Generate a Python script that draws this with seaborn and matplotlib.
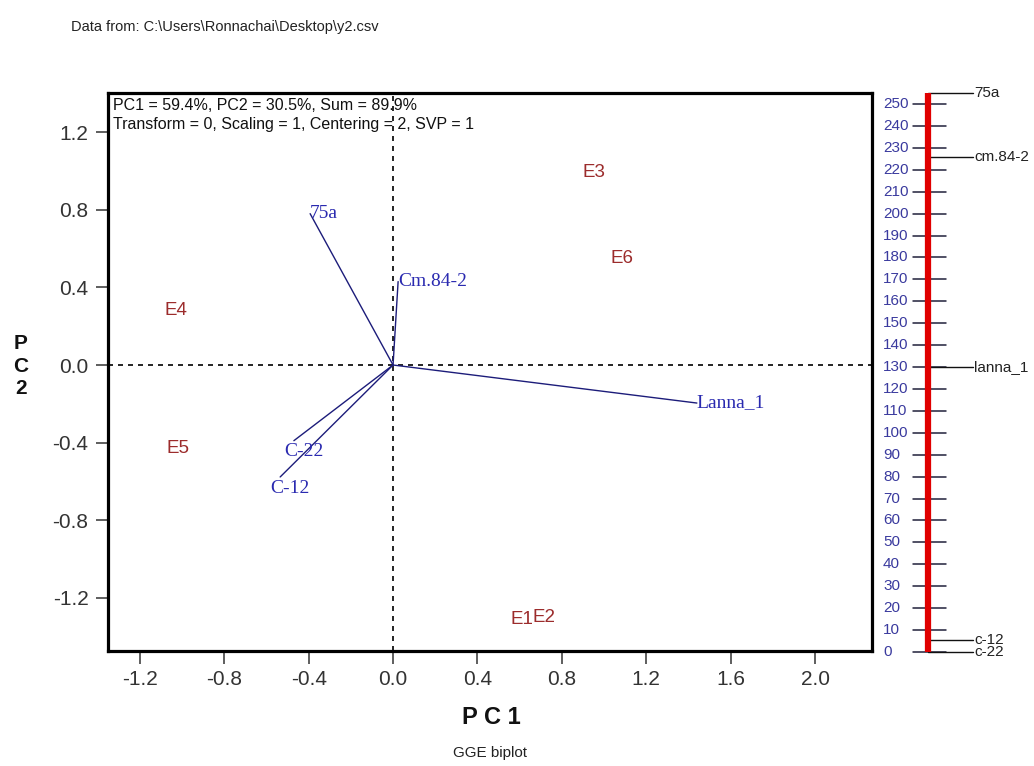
import numpy as np
import pandas as pd
import matplotlib
matplotlib.use("Agg")
import matplotlib.pyplot as plt
import seaborn as sns

# ---------------- data ----------------
genotypes = ["75a", "Cm.84-2", "Lanna_1", "C-22", "C-12"]
geno_pc1 = [-0.393, 0.024, 1.44, -0.47, -0.535]
geno_pc2 = [0.78, 0.43, -0.196, -0.39, -0.577]

environments = ["E1", "E2", "E3", "E4", "E5", "E6"]
env_pc1 = [0.61, 0.715, 0.953, -1.03, -1.02, 1.085]
env_pc2 = [-1.31, -1.30, 0.99, 0.28, -0.43, 0.55]

x_ticks = [-1.2, -0.8, -0.4, 0.0, 0.4, 0.8, 1.2, 1.6, 2.0]
y_ticks = [1.2, 0.8, 0.4, 0.0, -0.4, -0.8, -1.2]

scale_names = ["75a", "cm.84-2", "lanna_1", "c-12", "c-22"]
scale_values = [255, 226, 130, 5.5, 0]
scale_ticks = list(range(0, 251, 10))

header_lines = ["PC1 = 59.4%, PC2 = 30.5%, Sum = 89.9%",
                "Transform = 0, Scaling = 1, Centering = 2, SVP = 1"]
source_text = "Data from: C:\\Users\\Ronnachai\\Desktop\\y2.csv"

# ---------------- style ----------------
sns.set_theme(style="white")
plt.rcParams["font.family"] = ["Liberation Sans", "DejaVu Sans"]

W, H = 1034, 766
fig = plt.figure(figsize=(W / 100, H / 100), dpi=100)
fig.patch.set_facecolor("white")

def fx(px):
    return px / W

def fy(py):
    return 1 - py / H

# main axes box: px x 108..872, y 93..651
ax = fig.add_axes([fx(108), fy(651), (872 - 108) / W, (651 - 93) / H])
ax.set_xlim(-1.351, 2.270)
ax.set_ylim(-1.474, 1.402)

navy = "#1c1c7a"
vec_df = pd.DataFrame({
    "g": np.repeat(genotypes, 2),
    "pc1": np.ravel([[0.0, v] for v in geno_pc1]),
    "pc2": np.ravel([[0.0, v] for v in geno_pc2]),
})
ax.axhline(0, color="black", lw=1.2, ls=(0, (3, 3)), zorder=1)
ax.axvline(0, color="black", lw=1.2, ls=(0, (3, 3)), zorder=1)
sns.lineplot(data=vec_df, x="pc1", y="pc2", units="g", estimator=None,
             sort=False, color=navy, lw=1.0, ax=ax, legend=False, zorder=2)

for name, x, y in zip(genotypes, geno_pc1, geno_pc2):
    off = (-7, -8) if (x < 0 and y < 0) else (0, 0)
    ax.annotate(name, (x, y), xytext=off, textcoords="offset points",
                ha="left", va="center", color="#2a2ab0", fontsize=14,
                family=["Liberation Serif", "DejaVu Serif"], zorder=3)

for name, x, y in zip(environments, env_pc1, env_pc2):
    ax.text(x, y, name, ha="center", va="center", color="#9c2c2c",
            fontsize=13.5, zorder=3)

ax.set_xticks(x_ticks)
ax.set_xticklabels([f"{v:.1f}" for v in x_ticks])
ax.set_yticks(y_ticks)
ax.set_yticklabels([f"{v:.1f}" for v in y_ticks])
ax.tick_params(axis="both", direction="out", length=9, width=1.1,
               color="#333333", labelcolor="#333333", labelsize=15, pad=5,
               bottom=True, left=True)
ax.set_xlabel("")
ax.set_ylabel("")
for s in ax.spines.values():
    s.set_visible(True)
    s.set_color("black")
    s.set_linewidth(2.3)
ax.grid(False)

# header text inside the box
fig.text(fx(113), fy(106), header_lines[0], ha="left", va="center",
         fontsize=11.5, color="#111111")
fig.text(fx(113), fy(124), header_lines[1], ha="left", va="center",
         fontsize=11.5, color="#111111")

# axis titles
fig.text(fx(21), fy(366), "P\nC\n2", ha="center", va="center",
         fontsize=15, fontweight="bold", linespacing=1.25, color="#111111")
fig.text(fx(491), fy(718), "P C 1", ha="center", va="center",
         fontsize=17, fontweight="bold", color="#111111")
fig.text(fx(490), fy(753), "GGE biplot", ha="center", va="center",
         fontsize=11, color="#222222")
fig.text(fx(71), fy(27), source_text, ha="left", va="center",
         fontsize=10.5, color="#222222")

# ---------------- right ranking scale ----------------
# px x 880..1034, y 85..660 ; value v at py = 652 - 2.192 v
ax2 = fig.add_axes([fx(880), fy(660), (1034 - 880) / W, (660 - 85) / H])
ax2.set_xlim(0, 1)
ax2.set_ylim((652 - 660) / 2.192, (652 - 85) / 2.192)

bar_x = 0.312
for v in scale_ticks:
    ax2.plot([0.214, 0.429], [v, v], color="#20203a", lw=1.1, zorder=1)
    ax2.text(0.0195, v, str(v), ha="left", va="center", fontsize=11,
             color="#3a3a9e")
scale_df = pd.DataFrame({"x": [bar_x, bar_x],
                         "v": [0, max(scale_values)]})
sns.lineplot(data=scale_df, x="x", y="v", sort=False, estimator=None,
             color="#e00000", lw=4.5, ax=ax2, legend=False, zorder=3)
ax2.lines[-1].set_solid_capstyle("butt")
ax2.set_xlim(0, 1)
ax2.set_ylim((652 - 660) / 2.192, (652 - 85) / 2.192)
ax2.axis("off")
for name, v in zip(scale_names, scale_values):
    ax2.plot([bar_x, 0.604], [v, v], color="#111111", lw=1.0, zorder=2)
    ax2.text(0.612, v, name, ha="left", va="center", fontsize=11,
             color="#222222")

fig.savefig("out.png", dpi=100, facecolor="white")
